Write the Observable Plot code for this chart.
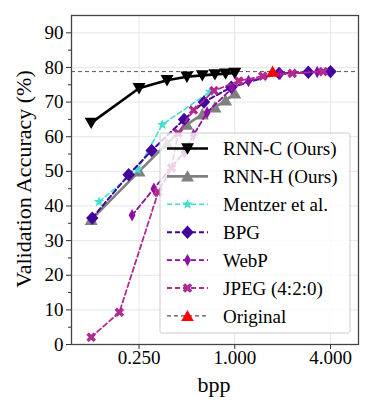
<!DOCTYPE html>
<html><head><meta charset="utf-8">
<script src="https://cdn.jsdelivr.net/npm/d3@7"></script>
<script src="https://cdn.jsdelivr.net/npm/@observablehq/plot@0.6"></script>
<style>body{margin:0;background:#fff} svg text{font-family:"Liberation Serif","Times New Roman",serif}</style>
</head><body><div id="chart"></div>
<script>
// ---- data ----
const rnncBpp = [0.125, 0.25, 0.375, 0.5, 0.625, 0.75, 0.875, 1.0];
const rnncAcc = [64.0, 74.0, 76.3, 77.3, 77.7, 78.0, 78.2, 78.4];
const rnnhBpp = [0.125, 0.25, 0.375, 0.5, 0.625, 0.75, 0.875, 1.0];
const rnnhAcc = [36.0, 50.0, 58.0, 63.5, 66.5, 68.5, 70.5, 72.5];
const mentzerBpp = [0.14, 0.245, 0.35, 0.70];
const mentzerAcc = [41.2, 50.5, 63.5, 73.0];
const bpgBpp = [0.127, 0.215, 0.30, 0.48, 0.64, 0.95, 1.9, 2.9, 4.0];
const bpgAcc = [36.5, 49.0, 56.0, 65.0, 70.0, 74.3, 78.3, 78.6, 78.8];
const webpBpp = [0.226, 0.31, 0.48, 0.55, 0.67, 0.96, 1.22, 1.93, 3.3];
const webpAcc = [37.3, 45.0, 55.5, 60.5, 67.0, 74.0, 76.1, 78.2, 78.7];
const jpegBpp = [0.125, 0.188, 0.33, 0.40, 0.44, 0.55, 0.74, 1.06, 1.5, 2.3, 3.6];
const jpegAcc = [2.1, 9.3, 44.0, 51.0, 61.0, 67.7, 73.3, 76.1, 77.5, 78.3, 78.8];
const originalBpp = [1.73];
const originalAcc = [78.8];
const seriesNames = ["RNN-C (Ours)", "RNN-H (Ours)", "Mentzer et al.", "BPG", "WebP", "JPEG (4:2:0)", "Original"];
const xTicks = [0.25, 1, 4];
const yTicks = [0, 10, 20, 30, 40, 50, 60, 70, 80, 90];
const yMinorTicks = [5, 15, 25, 35, 45, 55, 65, 75, 85];

// ---- symbols ----
function poly(pts) {
  return {draw(ctx, size) {
    const r = Math.sqrt(size / Math.PI);
    pts.forEach(([x, y], i) => i ? ctx.lineTo(x * r, y * r) : ctx.moveTo(x * r, y * r));
    ctx.closePath();
  }};
}
const triDown = poly([[-1, -0.8], [1, -0.8], [0, 0.95]]);
const triUp = poly([[-1, 0.8], [1, 0.8], [0, -0.95]]);
const diamond = poly([[0, -1.08], [1, 0], [0, 1.08], [-1, 0]]);
const thinDiamond = poly([[0, -1], [0.55, 0], [0, 1], [-0.55, 0]]);
const xs = (() => { const a = 0.5, b = 1; return poly([[-b + a, -b], [0, -a], [b - a, -b], [b, -b + a], [a, 0], [b, b - a], [b - a, b], [0, a], [-b + a, b], [-b, b - a], [-a, 0], [-b, -b + a]]); })();
const star = (() => { const p = []; for (let i = 0; i < 10; i++) { const ang = -Math.PI / 2 + i * Math.PI / 5; const rr = i % 2 ? 0.42 : 1; p.push([rr * Math.cos(ang), rr * Math.sin(ang)]); } return poly(p); })();

const mk = (bpp, acc) => bpp.map((b, i) => ({b, a: acc[i]}));
const series = [
  {name: seriesNames[0], data: mk(rnncBpp, rnncAcc), color: "#000000", sw: 2.6, dash: null, sym: triDown, r: 6.5},
  {name: seriesNames[1], data: mk(rnnhBpp, rnnhAcc), color: "#808080", sw: 2.6, dash: null, sym: triUp, r: 6.5},
  {name: seriesNames[2], data: mk(mentzerBpp, mentzerAcc), color: "#40e0d0", sw: 1.6, dash: "5,3", sym: star, r: 5.5},
  {name: seriesNames[3], data: mk(bpgBpp, bpgAcc), color: "#41049d", sw: 2.0, dash: "5,3", sym: diamond, r: 6.2},
  {name: seriesNames[4], data: mk(webpBpp, webpAcc), color: "#8f0da4", sw: 1.8, dash: "5,3", sym: thinDiamond, r: 6.2},
  {name: seriesNames[5], data: mk(jpegBpp, jpegAcc), color: "#b12a90", sw: 1.8, dash: "5,3", sym: xs, r: 4.8}
];

const serif = "'Liberation Serif', 'Times New Roman', serif";
const marks = [
  Plot.gridY(yTicks, {stroke: "#e6e6e6", strokeOpacity: 1, strokeWidth: 1}),
  Plot.gridX(xTicks, {stroke: "#e6e6e6", strokeOpacity: 1, strokeWidth: 1}),
  Plot.ruleY(originalAcc, {stroke: "#555", strokeWidth: 1, strokeDasharray: "4,3"}),
];
for (const s of series) {
  marks.push(Plot.line(s.data, {x: "b", y: "a", stroke: s.color, strokeWidth: s.sw, strokeDasharray: s.dash}));
  marks.push(Plot.dot(s.data, {x: "b", y: "a", symbol: s.sym, r: s.r, fill: s.color, stroke: "none"}));
}
marks.push(Plot.dot(mk(originalBpp, originalAcc), {x: "b", y: "a", symbol: triUp, r: 6.3, fill: "#ff0000", stroke: "none"}));
marks.push(Plot.axisY(yTicks, {tickSize: 5, tickPadding: 3, fontSize: 19, fontFamily: serif, stroke: "#333", label: null}));
marks.push(Plot.axisY(yMinorTicks, {tickSize: 3, text: null, stroke: "#333", label: null}));
marks.push(Plot.axisX(xTicks, {tickSize: 5, text: null, stroke: "#333", label: null}));
marks.push(Plot.text(xTicks, {x: d => d, frameAnchor: "bottom", dy: 19, text: d3.format(".3f"), fontSize: 19, fontFamily: serif, fill: "#000"}));
marks.push(Plot.frame({stroke: "#444", strokeWidth: 1.3}));

const chart = Plot.plot({
  width: 374, height: 413,
  marginLeft: 71, marginRight: 16, marginTop: 15, marginBottom: 69,
  style: {fontFamily: serif, fontSize: "19px", color: "#000", background: "#fff"},
  x: {type: "log", domain: [0.094, 6.0]},
  y: {domain: [0, 95]},
  marks
});
document.getElementById("chart").appendChild(chart);

// ---- axis labels and legend ----
const svg = d3.select(chart);
svg.append("text").attr("x", 214).attr("y", 392).attr("text-anchor", "middle")
  .attr("font-family", serif).attr("font-size", 22).attr("fill", "#000").text("bpp");
svg.append("text").attr("transform", "translate(31,179) rotate(-90)").attr("text-anchor", "middle")
  .attr("font-family", serif).attr("font-size", 22).attr("fill", "#000").text("Validation Accuracy (%)");

const lg = svg.append("g").attr("text-anchor", "start");
lg.append("rect").attr("x", 160).attr("y", 133).attr("width", 190).attr("height", 200).attr("rx", 2)
  .attr("fill", "#fff").attr("fill-opacity", 0.8).attr("stroke", "#cccccc").attr("stroke-width", 1);
const legendItems = series.map(s => ({name: s.name, color: s.color, sw: s.sw, dash: s.dash, sym: s.sym, r: s.r}))
  .concat([{name: seriesNames[6], color: "#555", sw: 1.4, dash: "4,3", sym: triUp, r: 6.3, fill: "#ff0000"}]);
legendItems.forEach((it, i) => {
  const y = 148.5 + i * 27.9;
  lg.append("line").attr("x1", 167).attr("x2", 208).attr("y1", y).attr("y2", y)
    .attr("stroke", it.color).attr("stroke-width", it.sw).attr("stroke-dasharray", it.dash);
  lg.append("path").attr("transform", `translate(187.5,${y})`)
    .attr("d", d3.symbol(it.sym, it.r * it.r * Math.PI)()).attr("fill", it.fill || it.color);
  lg.append("text").attr("x", 223).attr("y", y).attr("dy", "0.35em").attr("text-anchor", "start")
    .attr("font-family", serif).attr("font-size", 19).attr("fill", "#000").text(it.name);
});
</script>
</body></html>
